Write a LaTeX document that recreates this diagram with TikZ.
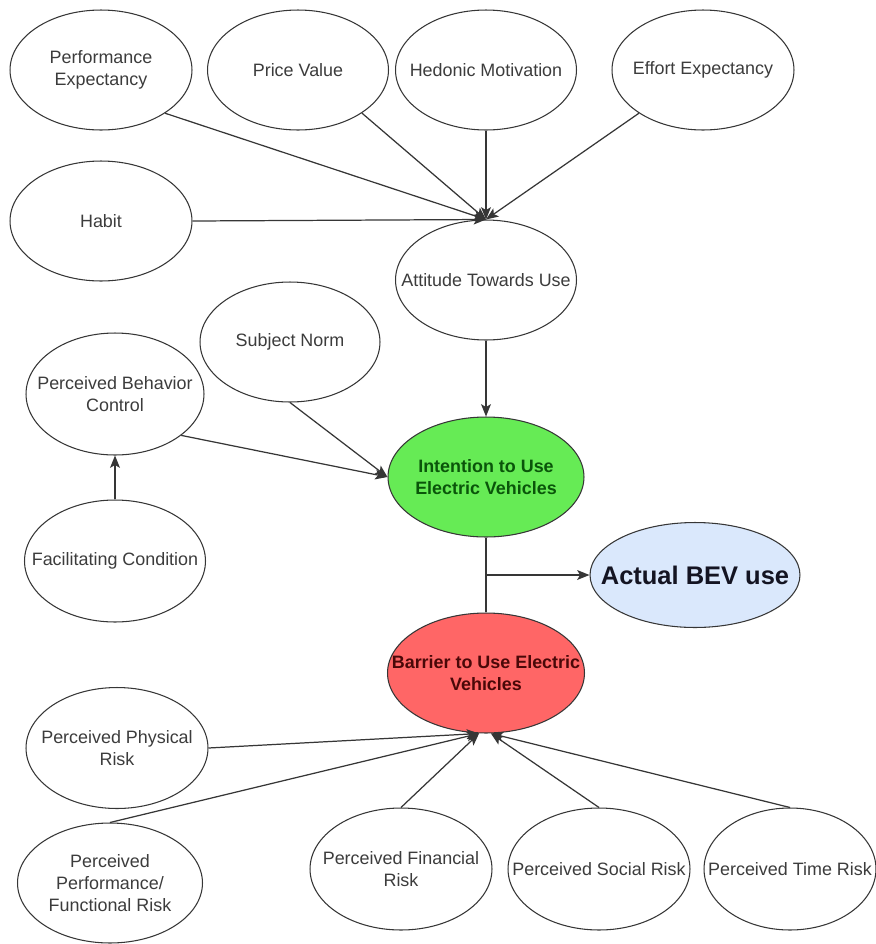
\documentclass[tikz,border=0pt]{standalone}
\usepackage{fontspec}
\setmainfont{Liberation Sans}
\usetikzlibrary{shapes.geometric,arrows.meta}
\definecolor{lg}{HTML}{363636}
\definecolor{tg}{HTML}{3C3C3C}
\definecolor{gfill}{HTML}{66EB55}
\definecolor{gtext}{HTML}{0A550A}
\definecolor{rfill}{HTML}{FF6666}
\definecolor{rtext}{HTML}{4A0808}
\definecolor{bfill}{HTML}{DAE8FC}
\definecolor{btext}{HTML}{141422}
\begin{document}
\begin{tikzpicture}[x=0.02cm,y=-0.02cm,
  ell/.style={ellipse, draw=lg, line width=0.6pt, fill=white, inner sep=0pt,
    minimum width=3.64cm, minimum height=2.4cm},
  txt/.style={text=tg, font=\fontsize{10.2}{12.5}\selectfont, align=center, inner sep=0pt},
  btxt/.style={txt, font=\fontsize{10.2}{12.5}\selectfont\bfseries},
  arr/.style={draw=lg, line width=0.7pt, -{Stealth[length=7pt,width=5.6pt,inset=1.6pt]}},
  con/.style={draw=lg, line width=0.7pt}]
\path[use as bounding box, fill=white] (0,0) rectangle (876,944);

% top row
\node[ell, label={[txt]center:{Performance\\Expectancy}}] (pe) at (101,70) {};
\node[ell, minimum width=3.62cm, label={[txt]center:{Price Value}}] (pv) at (298,70) {};
\node[ell, minimum width=3.62cm, label={[txt]center:{Hedonic Motivation}}] (hm) at (486,70) {};
\node[ell, label={[txt]center:{Effort Expectancy}}] (ee) at (703,70) {};
\node[ell, label={[txt]center:{Habit}}] (hab) at (101,221) {};
\node[ell, minimum width=3.62cm, label={[txt]center:{Attitude Towards Use}}] (att) at (486,280) {};

% middle
\node[ell, minimum width=3.6cm, label={[txt]center:{Subject Norm}}] (sn) at (290,342) {};
\node[ell, minimum width=3.56cm, minimum height=2.44cm, label={[txt]center:{Perceived Behavior\\Control}}] (pbc) at (115,394) {};
\node[ell, minimum width=3.62cm, minimum height=2.44cm, label={[txt]center:{Facilitating Condition}}] (fc) at (115,561) {};
\node[ell, fill=gfill, minimum width=3.92cm, label={[btxt, text=gtext]center:{Intention to Use\\Electric Vehicles}}] (int) at (486,477) {};
\node[ell, fill=bfill, minimum width=4.2cm, minimum height=2.1cm,
  label={[txt, text=btext, font=\fontsize{14.5}{17}\selectfont\bfseries]center:{Actual BEV use}}] (bev) at (695,575) {};
\node[ell, fill=rfill, minimum width=3.94cm, label={[btxt, text=rtext]center:{Barrier to Use Electric\\Vehicles}}] (bar) at (486,673) {};

% bottom
\node[ell, minimum height=2.42cm, label={[txt]center:{Perceived Physical\\Risk}}] (phy) at (117,748) {};
\node[ell, minimum width=3.7cm, label={[txt]center:{Perceived\\Performance/\\Functional Risk}}] (pf) at (110,883) {};
\node[ell, minimum height=2.44cm, label={[txt]center:{Perceived Financial\\Risk}}] (fin) at (401,869) {};
\node[ell, minimum height=2.44cm, label={[txt]center:{Perceived Social Risk}}] (soc) at (599,869) {};
\node[ell, minimum width=3.44cm, minimum height=2.44cm, label={[txt]center:{Perceived Time Risk}}] (tim) at (790,869) {};

% connectors into Attitude
\draw[arr] (pe.-34) -- (att.north);
\draw[arr] (pv.-34) -- (att.north);
\draw[arr] (hm.south) -- (att.north);
\draw[arr] (ee.-146) -- (att.north);
\draw[arr] (hab.east) -- (att.north);

% into Intention
\draw[arr] (att.south) -- (int.north);
\draw[arr] (sn.south) -- (int.west);
\draw[arr] (pbc.-32) -- (int.west);
\draw[arr] (fc.north) -- (pbc.south);

% Intention - Barrier - BEV
\draw[con] (int.south) -- (bar.north);
\coordinate (junc) at (int.south |- bev.west);
\draw[arr] (junc) -- (bev.west);

% into Barrier
\coordinate (bl) at ([xshift=-0.14cm]bar.south);
\coordinate (br) at ([xshift=0.1cm]bar.south);
\draw[arr] (phy.east) -- (bl);
\draw[arr] (pf.north) -- (bl);
\draw[arr] (fin.north) -- (bl);
\draw[arr] (soc.north) -- (br);
\draw[arr] (tim.north) -- (br);
\end{tikzpicture}
\end{document}
